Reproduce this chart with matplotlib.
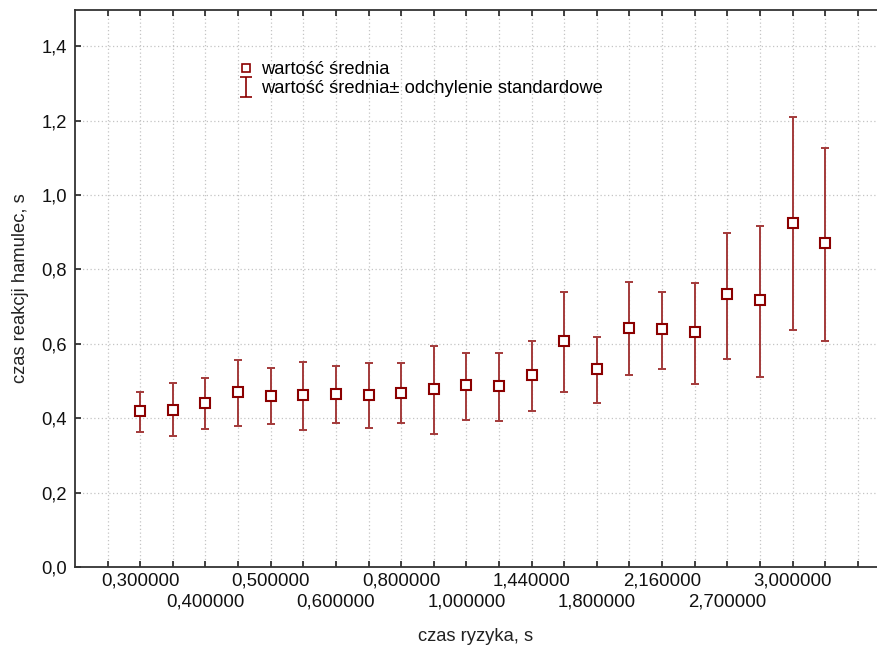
import matplotlib
matplotlib.use('Agg')
import matplotlib.pyplot as plt
from matplotlib.lines import Line2D
from matplotlib.path import Path
from matplotlib.ticker import FixedLocator, FixedFormatter
import numpy as np

plt.rcParams['font.family'] = ['Liberation Sans', 'DejaVu Sans']

# categories (czas ryzyka); only every second one is labelled in the reference
categories = ['0,300000', '', '0,400000', '', '0,500000', '', '0,600000', '',
              '0,800000', '', '1,000000', '', '1,440000', '', '1,800000', '',
              '2,160000', '', '2,700000', '', '3,000000', '']
means = [0.420, 0.423, 0.442, 0.471, 0.459, 0.463, 0.465, 0.463, 0.468, 0.478, 0.488,
         0.487, 0.516, 0.608, 0.532, 0.643, 0.640, 0.631, 0.733, 0.717, 0.924, 0.870]
upper = [0.469, 0.495, 0.507, 0.556, 0.534, 0.550, 0.541, 0.547, 0.547, 0.595, 0.575,
         0.575, 0.607, 0.740, 0.619, 0.766, 0.740, 0.763, 0.899, 0.916, 1.209, 1.126]
lower = [0.364, 0.351, 0.370, 0.379, 0.384, 0.369, 0.387, 0.374, 0.387, 0.358, 0.396,
         0.392, 0.418, 0.469, 0.440, 0.517, 0.533, 0.491, 0.559, 0.511, 0.636, 0.607]
y_ticks = [0.0, 0.2, 0.4, 0.6, 0.8, 1.0, 1.2, 1.4]
y_ticklabels = ['0,0', '0,2', '0,4', '0,6', '0,8', '1,0', '1,2', '1,4']

fig = plt.figure(figsize=(8.77, 6.5), dpi=100)
ax = fig.add_axes([75 / 877, 1 - 567 / 650, 1 - 75 / 877, (567 - 10) / 650])

n = len(categories)
x = np.arange(1, n + 1)
m = np.array(means)
yerr = [m - np.array(lower), np.array(upper) - m]

err_col = '#a33a3a'
mk_col = '#8b0000'
ax.errorbar(x, m, yerr=yerr, fmt='none', ecolor=err_col, elinewidth=1.4,
            capsize=2.8, capthick=1.4, zorder=3)
ax.plot(x, m, linestyle='none', marker='s', markersize=7, markerfacecolor='white',
        markeredgecolor=mk_col, markeredgewidth=1.5, zorder=4)

# ticks: top-row labels on major ticks, bottom-row labels on minor ticks
all_pos = list(range(0, n + 2))
top_pos, top_lab, bot_pos, bot_lab = [], [], [], []
for i, lab in enumerate(categories):
    p = i + 1
    if lab and (i // 2) % 2 == 0:
        top_pos.append(p)
        top_lab.append(lab)
for p in all_pos:
    if p not in top_pos:
        bot_pos.append(p)
        i = p - 1
        if 0 <= i < n and categories[i] and (i // 2) % 2 == 1:
            bot_lab.append(categories[i])
        else:
            bot_lab.append('')
ax.xaxis.set_major_locator(FixedLocator(top_pos))
ax.xaxis.set_major_formatter(FixedFormatter(top_lab))
ax.xaxis.set_minor_locator(FixedLocator(bot_pos))
ax.xaxis.set_minor_formatter(FixedFormatter(bot_lab))
ax.set_yticks(y_ticks)
ax.set_yticklabels(y_ticklabels)
ax.set_xlim(-1, 23.59)
ax.set_ylim(0, 1.497)

ax.tick_params(axis='x', which='major', direction='in', length=4, width=1.2, top=True,
               colors='#222222', labelcolor='#111111', labelsize=13.4, pad=4)
ax.tick_params(axis='x', which='minor', direction='in', length=4, width=1.2, top=True,
               colors='#222222', labelcolor='#111111', labelsize=13.4, pad=19)
ax.tick_params(axis='y', direction='in', length=4, width=1.2, colors='#222222',
               labelcolor='#111111', labelsize=13.2, pad=6)
for s in ['left', 'bottom', 'top']:
    ax.spines[s].set_linewidth(1.3)
    ax.spines[s].set_color('#333333')
ax.spines['right'].set_visible(False)

ax.grid(True, which='both', axis='x', linestyle=(0, (1, 2)), color='#c4c4c4',
        linewidth=0.9, zorder=0)
ax.grid(True, axis='y', linestyle=(0, (1, 2)), color='#c4c4c4', linewidth=0.9, zorder=0)
ax.set_axisbelow(True)

ax.set_xlabel('czas ryzyka, s', fontsize=13.2, labelpad=13, color='#222222')
ax.set_ylabel('czas reakcji hamulec, s', fontsize=13.2, labelpad=9, color='#222222')

h1 = Line2D([], [], linestyle='none', marker='s', markersize=6, markerfacecolor='white',
            markeredgecolor=mk_col, markeredgewidth=1.2)
ibar = Path([(-0.6, -1), (0.6, -1), (0, -1), (0, 1), (-0.6, 1), (0.6, 1)],
            [Path.MOVETO, Path.LINETO, Path.MOVETO, Path.LINETO, Path.MOVETO, Path.LINETO])
h2 = Line2D([], [], linestyle='none', marker=ibar, markersize=14, fillstyle='none',
            markeredgecolor=mk_col, markeredgewidth=1.2)
leg = ax.legend([h1, h2], ['wartość średnia', 'wartość średnia± odchylenie standardowe'],
                loc='upper left', bbox_to_anchor=(0.195, 0.921), frameon=False,
                fontsize=13.2, handlelength=0.8, handletextpad=0.4, labelspacing=0.1,
                borderaxespad=0)

fig.savefig('out.png', dpi=100)
